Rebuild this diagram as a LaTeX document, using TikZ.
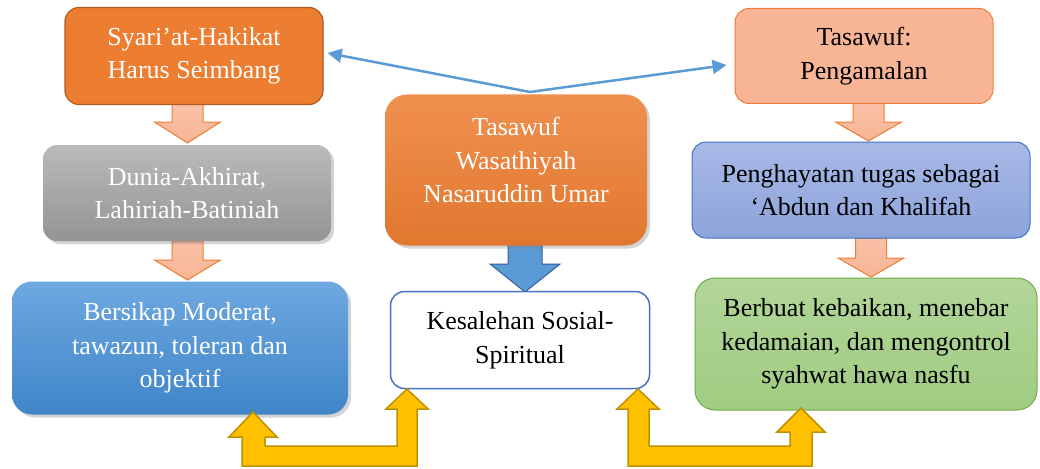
\documentclass[tikz,border=0pt]{standalone}
\usepackage{fontspec}
\setmainfont{Liberation Serif}
\newfontfamily\boxfont{Liberation Serif}
\usetikzlibrary{shadows,arrows.meta}

\definecolor{orgdark}{HTML}{ED7D31}
\definecolor{orgline}{HTML}{AE5A21}
\definecolor{orglight}{HTML}{F8B596}
\definecolor{bluemain}{HTML}{5B9BD5}
\definecolor{blueline}{HTML}{4472C4}
\definecolor{gold}{HTML}{FFC000}
\definecolor{goldline}{HTML}{BF9000}

\begin{document}
\begin{tikzpicture}[x=1pt,y=-1pt,
  box/.style={draw,rounded corners=14pt,align=center,inner sep=0pt,
    font=\boxfont\fontsize{26}{33.5}\selectfont},
  shade/.style={drop shadow={opacity=0.35,shadow xshift=3pt,shadow yshift=-3pt}},
  pale/.style={draw=orgdark,line width=1pt,top color=orglight!85,bottom color=orglight},
  link/.style={bluemain,line width=2.5pt,-{Triangle[length=14pt,width=14pt]}}]
\useasboundingbox (0,0) rectangle (1040,468);

% block arrow: [style]{x}{top}{head}{tip}
\newcommand{\dnarrow}[5][pale]
{
 \draw[#1,line join=miter] (#2-15.5,#3) -- (#2+15.5,#3) -- (#2+15.5,#4)
   -- (#2+33,#4) -- (#2,#5) -- (#2-33,#4) -- (#2-15.5,#4) -- cycle;
}

\dnarrow{187.5}{103}{122}{143}
\dnarrow{187.5}{241}{260}{280}
\dnarrow{868.5}{103}{122}{141}
\dnarrow{871}{238}{258}{277}
\draw[draw=blueline!80!black,line width=1pt,fill=bluemain] (508,243) -- (542,243)
  -- (542,264) -- (560,264) -- (525,292) -- (490,264) -- (508,264) -- cycle;

% boxes
\node[box,draw=orgline,line width=1.2pt,fill=orgdark,text=white,
  minimum width=258,minimum height=97] (syariat) at (194,56)
  {Syari’at-Hakikat\\Harus Seimbang};
\node[box,draw=none,shade,top color=black!27,bottom color=black!42,text=white,
  minimum width=288,minimum height=96] (dunia) at (187,193)
  {Dunia-Akhirat,\\Lahiriah-Batiniah};
\node[box,draw=none,shade,rounded corners=20pt,top color={rgb,255:red,110;green,168;blue,224},
  bottom color={rgb,255:red,63;green,133;blue,200},text=white,
  minimum width=336,minimum height=133] (moderat) at (180,348)
  {Bersikap Moderat,\\tawazun, toleran dan\\objektif};
\node[box,draw=none,shade,rounded corners=22pt,top color=orgdark!85,
  bottom color=orgdark!95!black,minimum width=262,minimum height=151]
  (wasathiyah) at (516,170) {};
\node[box,draw=none,text=white] at ([yshift=10pt]wasathiyah.center)
  {Tasawuf\\Wasathiyah\\Nasaruddin Umar};
\node[box,draw=blueline,line width=1.5pt,fill=white,
  minimum width=259,minimum height=97] (kesalehan) at (520,340)
  {Kesalehan Sosial-\\Spiritual};
\node[box,draw=orgdark,line width=1pt,fill=orglight,
  minimum width=258,minimum height=95] (pengamalan) at (864,56)
  {Tasawuf:\\Pengamalan};
\node[box,draw=blueline,line width=1pt,top color={rgb,255:red,168;green,185;blue,230},
  bottom color={rgb,255:red,140;green,163;blue,218},minimum width=338,minimum height=96]
  (penghayatan) at (861,190) {Penghayatan tugas sebagai\\‘Abdun dan Khalifah};
\node[box,draw={rgb,255:red,112;green,173;blue,71},line width=1pt,rounded corners=20pt,
  top color={rgb,255:red,178;green,214;blue,153},
  bottom color={rgb,255:red,160;green,204;blue,130},
  minimum width=342,minimum height=132] (kebaikan) at (866,344)
  {Berbuat kebaikan, menebar\\kedamaian, dan mengontrol\\syahwat hawa nasfu};

% links
\coordinate (apex) at (530,92);
\draw[link] (apex) -- ([xshift=4pt,yshift=3pt]syariat.east);
\draw[link] (apex) -- ([xshift=-8pt,yshift=-9pt]pengamalan.west);

% yellow arrows
\draw[goldline,fill=gold,line width=1.5pt,line join=miter]
  (253,412) -- (277,437) -- (265,437) -- (265,446) -- (397,446) -- (397,409)
  -- (386,409) -- (407,389) -- (428,409) -- (417,409) -- (417,466)
  -- (242,466) -- (242,437) -- (229,437) -- cycle;
\draw[goldline,fill=gold,line width=1.5pt,line join=miter]
  (638,389) -- (659,409) -- (649,409) -- (649,446) -- (790,446) -- (790,432)
  -- (777,432) -- (801,408) -- (825,432) -- (812,432) -- (812,466)
  -- (628,466) -- (628,409) -- (617,409) -- cycle;

\end{tikzpicture}
\end{document}
